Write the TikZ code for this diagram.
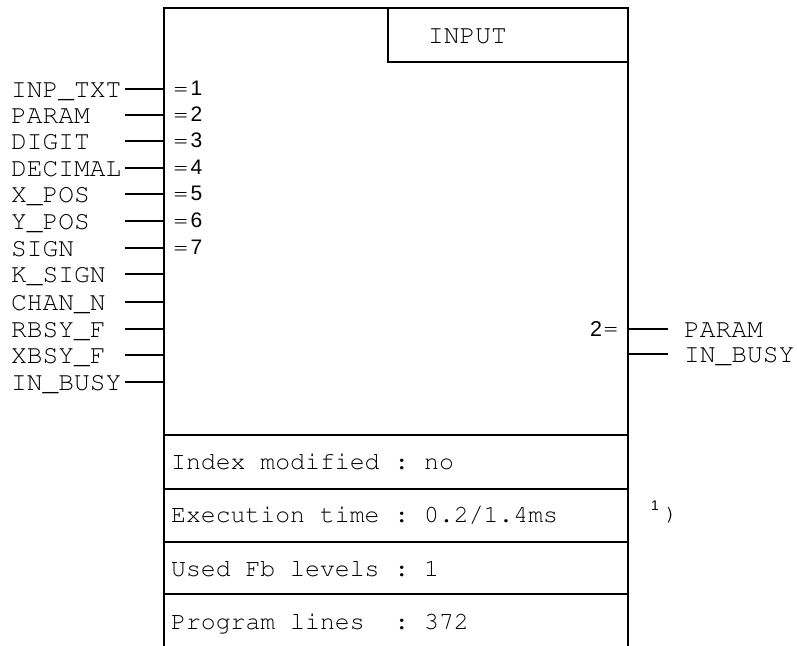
\documentclass[tikz,border=0pt]{standalone}
\usepackage[T1]{fontenc}
\usepackage{fontspec}
\newfontfamily\sansf{Liberation Sans}
\newcommand\cour{\fontencoding{T1}\fontfamily{pcr}\fontseries{m}\fontshape{n}\selectfont}
\frenchspacing
\begin{document}
\begin{tikzpicture}[x=1pt,y=-1pt,
  pinlbl/.style={anchor=base west,inner sep=0pt,font=\fontsize{26.2}{30}\cour},
  boxtxt/.style={anchor=base west,inner sep=0pt,font=\fontsize{24.8}{28}\cour},
  eqsign/.style={anchor=base west,inner sep=0pt,font=\fontsize{24}{28}\cour},
  digit/.style={anchor=base west,inner sep=0pt,font=\sansf\fontsize{21}{24}\selectfont},
  frame/.style={line width=1.8pt,line cap=rect},
  pinline/.style={line width=1.8pt}]
\useasboundingbox (0,0) rectangle (797,645);
% frame
\coordinate (TL) at (164,8);
\coordinate (TR) at (628,8);
\coordinate (BL) at (164,645);
\coordinate (BR) at (628,645);
\draw[frame] (BL) -- (TL) -- (TR) -- (BR);
% title box
\coordinate (IT) at (388,8);
\coordinate (IB) at (388,62);
\coordinate (IR) at (628,62);
\draw[frame] (IT) -- (IB) -- (IR);
\node[pinlbl] (title) at (428,43) {INPUT};
% separators
\foreach \y [count=\i] in {435,489,542,594}{
  \coordinate (sl\i) at (164,\y);
  \coordinate (sr\i) at (628,\y);
  \draw[frame] (sl\i) -- (sr\i);
}
% info texts
\node[boxtxt] (t1) at (171,469) {Index modified : no};
\node[boxtxt] (t2) at (171,522) {Execution time : 0.2/1.4ms};
\node[boxtxt] (t3) at (171,576) {Used Fb levels : 1};
\node[boxtxt] (t4) at (171,629) {Program lines\ \ : 372};
% footnote mark
\node[anchor=base west,inner sep=0pt,font=\sansf\fontsize{14}{16}\selectfont] (fn1) at (651,510.5) {1};
\node[anchor=base west,inner sep=0pt,font=\fontsize{22}{26}\cour] (fn2) at (664.5,520) {)};
% left pins
\foreach \name/\y [count=\i] in {INP\_TXT/89,PARAM/115,DIGIT/141,DECIMAL/168,X\_POS/194,Y\_POS/221,SIGN/248,K\_SIGN/274,CHAN\_N/302,RBSY\_F/329,XBSY\_F/355,IN\_BUSY/382}{
  \node[pinlbl] (in\i) at (11,\y+8) {\name};
  \coordinate (ia\i) at (125,\y);
  \coordinate (ib\i) at (164,\y);
  \draw[pinline] (ia\i) -- (ib\i);
}
% input numbers
\foreach \n/\y in {1/89,2/115,3/141,4/168,5/194,6/221,7/248}{
  \node[eqsign] (eq\n) at (173.5,\y+7) {=};
  \node[digit] (num\n) at (190.5,\y+6.5) {\n};
}
% right pins
\foreach \name/\y [count=\i] in {PARAM/329,IN\_BUSY/354}{
  \coordinate (oa\i) at (628,\y);
  \coordinate (ob\i) at (668,\y);
  \draw[pinline] (oa\i) -- (ob\i);
  \node[pinlbl] (out\i) at (684,\y+8) {\name};
}
\node[anchor=base west,inner sep=0pt,font=\sansf\fontsize{21.5}{25}\selectfont] (num0) at (590,336) {2};
\node[eqsign] (eq0) at (603.5,336.5) {=};
\end{tikzpicture}
\end{document}
